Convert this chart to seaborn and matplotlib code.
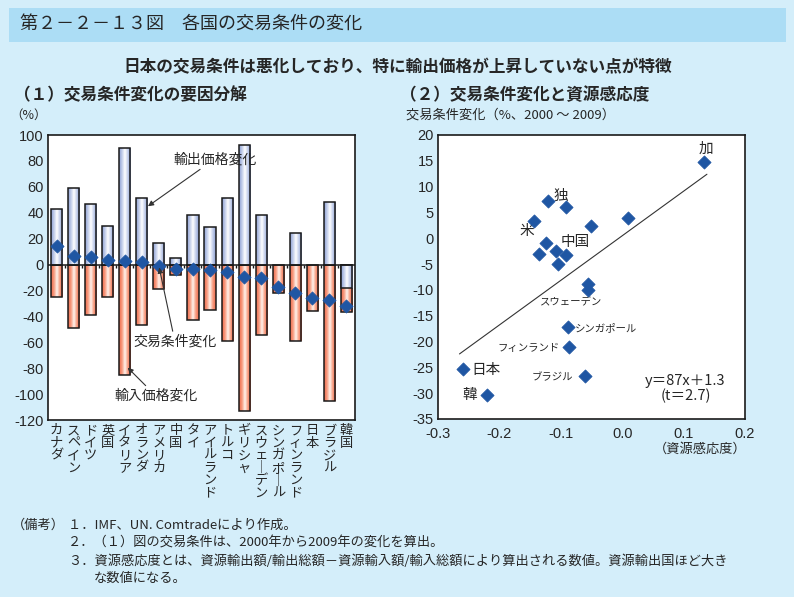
import numpy as np
import pandas as pd
import matplotlib
matplotlib.use("Agg")
import matplotlib.pyplot as plt
from matplotlib.colors import LinearSegmentedColormap
from matplotlib.patches import Rectangle
import seaborn as sns

# ---- data ----
countries = ['カナダ', 'スペイン', 'ドイツ', '英国', 'イタリア', 'オランダ', 'アメリカ', '中国', 'タイ',
             'アイルランド', 'トルコ', 'ギリシャ', 'スウェーデン', 'シンガポール', 'フィンランド',
             '日本', 'ブラジル', '韓国']
export_chg = [43, 59, 47, 30, 90, 51, 17, 5, 38, 29, 51, 92, 38, 0, 24, 0, 48, -18]
import_chg = [-25, -49, -39, -25, -85, -47, -19, -8, -43, -35, -59, -113, -54, -22, -59, -36, -105, -37]
tot_chg = [14.5, 6.7, 5.7, 3.6, 2.8, 2.1, -1.0, -3.1, -3.6, -4.1, -5.7, -9.3, -10.6, -17.4, -21.8,
           -26.2, -27.2, -32.1]

res_sens = [0.134, -0.121, -0.092, -0.143, -0.051, 0.009, -0.124, -0.136, -0.108, -0.092, -0.104,
            -0.056, -0.056, -0.088, -0.086, -0.259, -0.060, -0.221]
tot_2000_09 = [14.7, 7.2, 6.1, 3.3, 2.4, 4.0, -0.9, -3.0, -2.4, -3.3, -4.9, -8.9, -10.1, -17.1,
               -21.0, -25.3, -26.6, -30.3]
fit_x = [-0.265, 0.138]
fit_y = [-22.4, 12.4]

left_yticks = list(range(-120, 101, 20))
right_yticks = list(range(-35, 21, 5))
right_xticks = [-0.3, -0.2, -0.1, 0.0, 0.1, 0.2]

BG = '#D4EEFA'
BAND = '#ACDDF5'
DIAMOND = '#1F56A3'

sns.set_style('white')
plt.rcParams['font.family'] = ['Liberation Sans', 'Noto Sans CJK JP', 'DejaVu Sans']
plt.rcParams['axes.unicode_minus'] = False

fig = plt.figure(figsize=(7.94, 5.97), dpi=100, facecolor=BG)
W, H = 794, 597


def fx(px):
    return px / W


def fy(py):
    return 1 - py / H


jp = ['Noto Sans CJK JP', 'DejaVu Sans']

# title band
fig.patches.append(Rectangle((fx(9), fy(42)), fx(777), 34 / H, transform=fig.transFigure,
                             facecolor=BAND, edgecolor='none', zorder=0))
fig.text(fx(20), fy(25), '第２－２－１３図　各国の交易条件の変化', fontsize=13, family=jp,
         va='center', ha='left')
fig.text(fx(398), fy(67), '日本の交易条件は悪化しており、特に輸出価格が上昇していない点が特徴',
         fontsize=12, family=jp, weight='bold', va='center', ha='center')
fig.text(fx(14), fy(95), '（１）交易条件変化の要因分解', fontsize=12, family=jp, weight='bold',
         va='center', ha='left')
fig.text(fx(400), fy(95), '（２）交易条件変化と資源感応度', fontsize=12, family=jp, weight='bold',
         va='center', ha='left')
fig.text(fx(10), fy(115), '（%）', fontsize=9, family=jp, va='center', ha='left')
fig.text(fx(406), fy(115), '交易条件変化（%、2000 ～ 2009）', fontsize=9.5, family=jp,
         va='center', ha='left')

# ---- left: bars ----
ax1 = fig.add_axes([fx(48), fy(420), fx(307), 285 / H])
ax1.set_facecolor('white')
df = pd.DataFrame({'country': countries, 'exp': export_chg, 'imp': import_chg, 'tot': tot_chg})

n0 = len(ax1.patches)
sns.barplot(data=df, x='country', y='imp', order=countries, ax=ax1, width=0.65, color='w')
red_patches = ax1.patches[n0:]
n1 = len(ax1.patches)
sns.barplot(data=df, x='country', y='exp', order=countries, ax=ax1, width=0.65, color='w')
blue_patches = ax1.patches[n1:]

red_cmap = LinearSegmentedColormap.from_list('r', ['#FFF4EE', '#F79A7E', '#EE6A4C'])
blue_cmap = LinearSegmentedColormap.from_list('b', ['#FFFFFF', '#C2CDEA', '#8C9FD3'])
grad = np.abs(np.linspace(-1, 1, 80))[None, :]


def shade(patches, cmap, z):
    for p in patches:
        x0, w = p.get_x(), p.get_width()
        y0, h = p.get_y(), p.get_height()
        if h == 0:
            p.set_visible(False)
            continue
        im = ax1.imshow(grad, extent=[x0, x0 + w, min(y0, y0 + h), max(y0, y0 + h)],
                        aspect='auto', cmap=cmap, vmin=0, vmax=1, zorder=z,
                        interpolation='bilinear')
        im.set_clip_path(p)
        p.set_facecolor('none')
        p.set_edgecolor('#1a1a1a')
        p.set_linewidth(1.1)
        p.set_zorder(z + 0.05)


shade(red_patches, red_cmap, 2.0)
shade(blue_patches, blue_cmap, 2.2)

sns.scatterplot(data=df, x='country', y='tot', ax=ax1, marker='D', s=45, color=DIAMOND,
                edgecolor=DIAMOND, zorder=5, legend=False)

ax1.axhline(0, color='#1a1a1a', lw=1.1, zorder=4)
ax1.vlines(np.arange(len(countries) - 1) + 0.5, -3, 0, color='#1a1a1a', lw=1, zorder=4)
ax1.set_xlim(-0.5, len(countries) - 0.5)
ax1.set_ylim(-120, 100)
ax1.set_yticks(left_yticks)
ax1.set_yticklabels([str(v) for v in left_yticks], fontsize=10.5)
ax1.set_xticks(range(len(countries)))
ax1.set_xticklabels(['\n'.join(c.replace('ー', '｜')) for c in countries], family=jp,
                    fontsize=9.5, linespacing=0.95, va='top')
ax1.tick_params(length=0, pad=3)
ax1.set_xlabel('')
ax1.set_ylabel('')
for s in ax1.spines.values():
    s.set_color('#1a1a1a')
    s.set_linewidth(1.2)

arrow = dict(arrowstyle='-|>', color='#333333', lw=0.8, mutation_scale=8, shrinkA=0, shrinkB=0)
ax1.annotate('輸出価格変化', xy=(5.36, 45), xytext=(6.83, 76), fontsize=10, family=jp,
             ha='left', va='bottom', arrowprops=arrow, zorder=6)
ax1.annotate('交易条件変化', xy=(6.02, -2.3), xytext=(6.94, -54), fontsize=10, family=jp,
             ha='center', va='top', arrowprops=arrow, zorder=6)
ax1.annotate('輸入価格変化', xy=(4.17, -79.6), xytext=(5.83, -96), fontsize=10, family=jp,
             ha='center', va='top', arrowprops=arrow, zorder=6)

# ---- right: scatter ----
ax2 = fig.add_axes([fx(438), fy(419), fx(307), 284 / H])
ax2.set_facecolor('white')
sdf = pd.DataFrame({'x': res_sens, 'y': tot_2000_09})
sns.scatterplot(data=sdf, x='x', y='y', ax=ax2, marker='D', s=45, color=DIAMOND,
                edgecolor=DIAMOND, zorder=5, legend=False)
sns.lineplot(x=fit_x, y=fit_y, ax=ax2, color='#333333', lw=0.8)
ax2.set_xlim(-0.3, 0.2)
ax2.set_ylim(-35, 20)
ax2.set_xticks(right_xticks)
ax2.set_xticklabels(['%.1f' % v for v in right_xticks], fontsize=10.5)
ax2.set_yticks(right_yticks)
ax2.set_yticklabels([str(v) for v in right_yticks], fontsize=10.5)
ax2.tick_params(axis='y', length=0, pad=3)
ax2.tick_params(axis='x', length=0, pad=6)
ax2.set_xlabel('')
ax2.set_ylabel('')
for s in ax2.spines.values():
    s.set_color('#1a1a1a')
    s.set_linewidth(1.2)

big = dict(fontsize=10.5, family=jp, va='center')
small = dict(fontsize=7.5, family=jp, va='center')
ax2.text(0.136, 17.3, '加', ha='center', **big)
ax2.text(-0.10, 8.2, '独', ha='center', **big)
ax2.text(-0.155, 1.4, '米', ha='center', **big)
ax2.text(-0.076, -0.8, '中国', ha='center', **big)
ax2.text(-0.246, -25.5, '日本', ha='left', **big)
ax2.text(-0.236, -30.4, '韓', ha='right', **big)
ax2.text(-0.084, -12.3, 'スウェーデン', ha='center', **small)
ax2.text(-0.077, -17.4, 'シンガポール', ha='left', **small)
ax2.text(-0.101, -21.2, 'フィンランド', ha='right', **small)
ax2.text(-0.080, -26.9, 'ブラジル', ha='right', **small)
ax2.text(0.103, -27.6, 'y＝87x＋1.3', ha='center', **big)
ax2.text(0.103, -30.6, '(t＝2.7)', ha='center', **big)

fig.text(fx(700), fy(449), '（資源感応度）', fontsize=9.5, family=jp, va='center', ha='center')

# ---- notes ----
nt = dict(fontsize=9.5, family=jp, va='center', ha='left')
fig.text(fx(12), fy(525), '（備考）', **nt)
fig.text(fx(68), fy(525), '１．IMF、UN. Comtradeにより作成。', **nt)
fig.text(fx(68), fy(543), '２．（１）図の交易条件は、2000年から2009年の変化を算出。', **nt)
fig.text(fx(68), fy(561), '３．資源感応度とは、資源輸出額/輸出総額－資源輸入額/輸入総額により算出される数値。資源輸出国ほど大き', **nt)
fig.text(fx(94), fy(578), 'な数値になる。', **nt)

fig.savefig('out.png', dpi=100, facecolor=BG)
